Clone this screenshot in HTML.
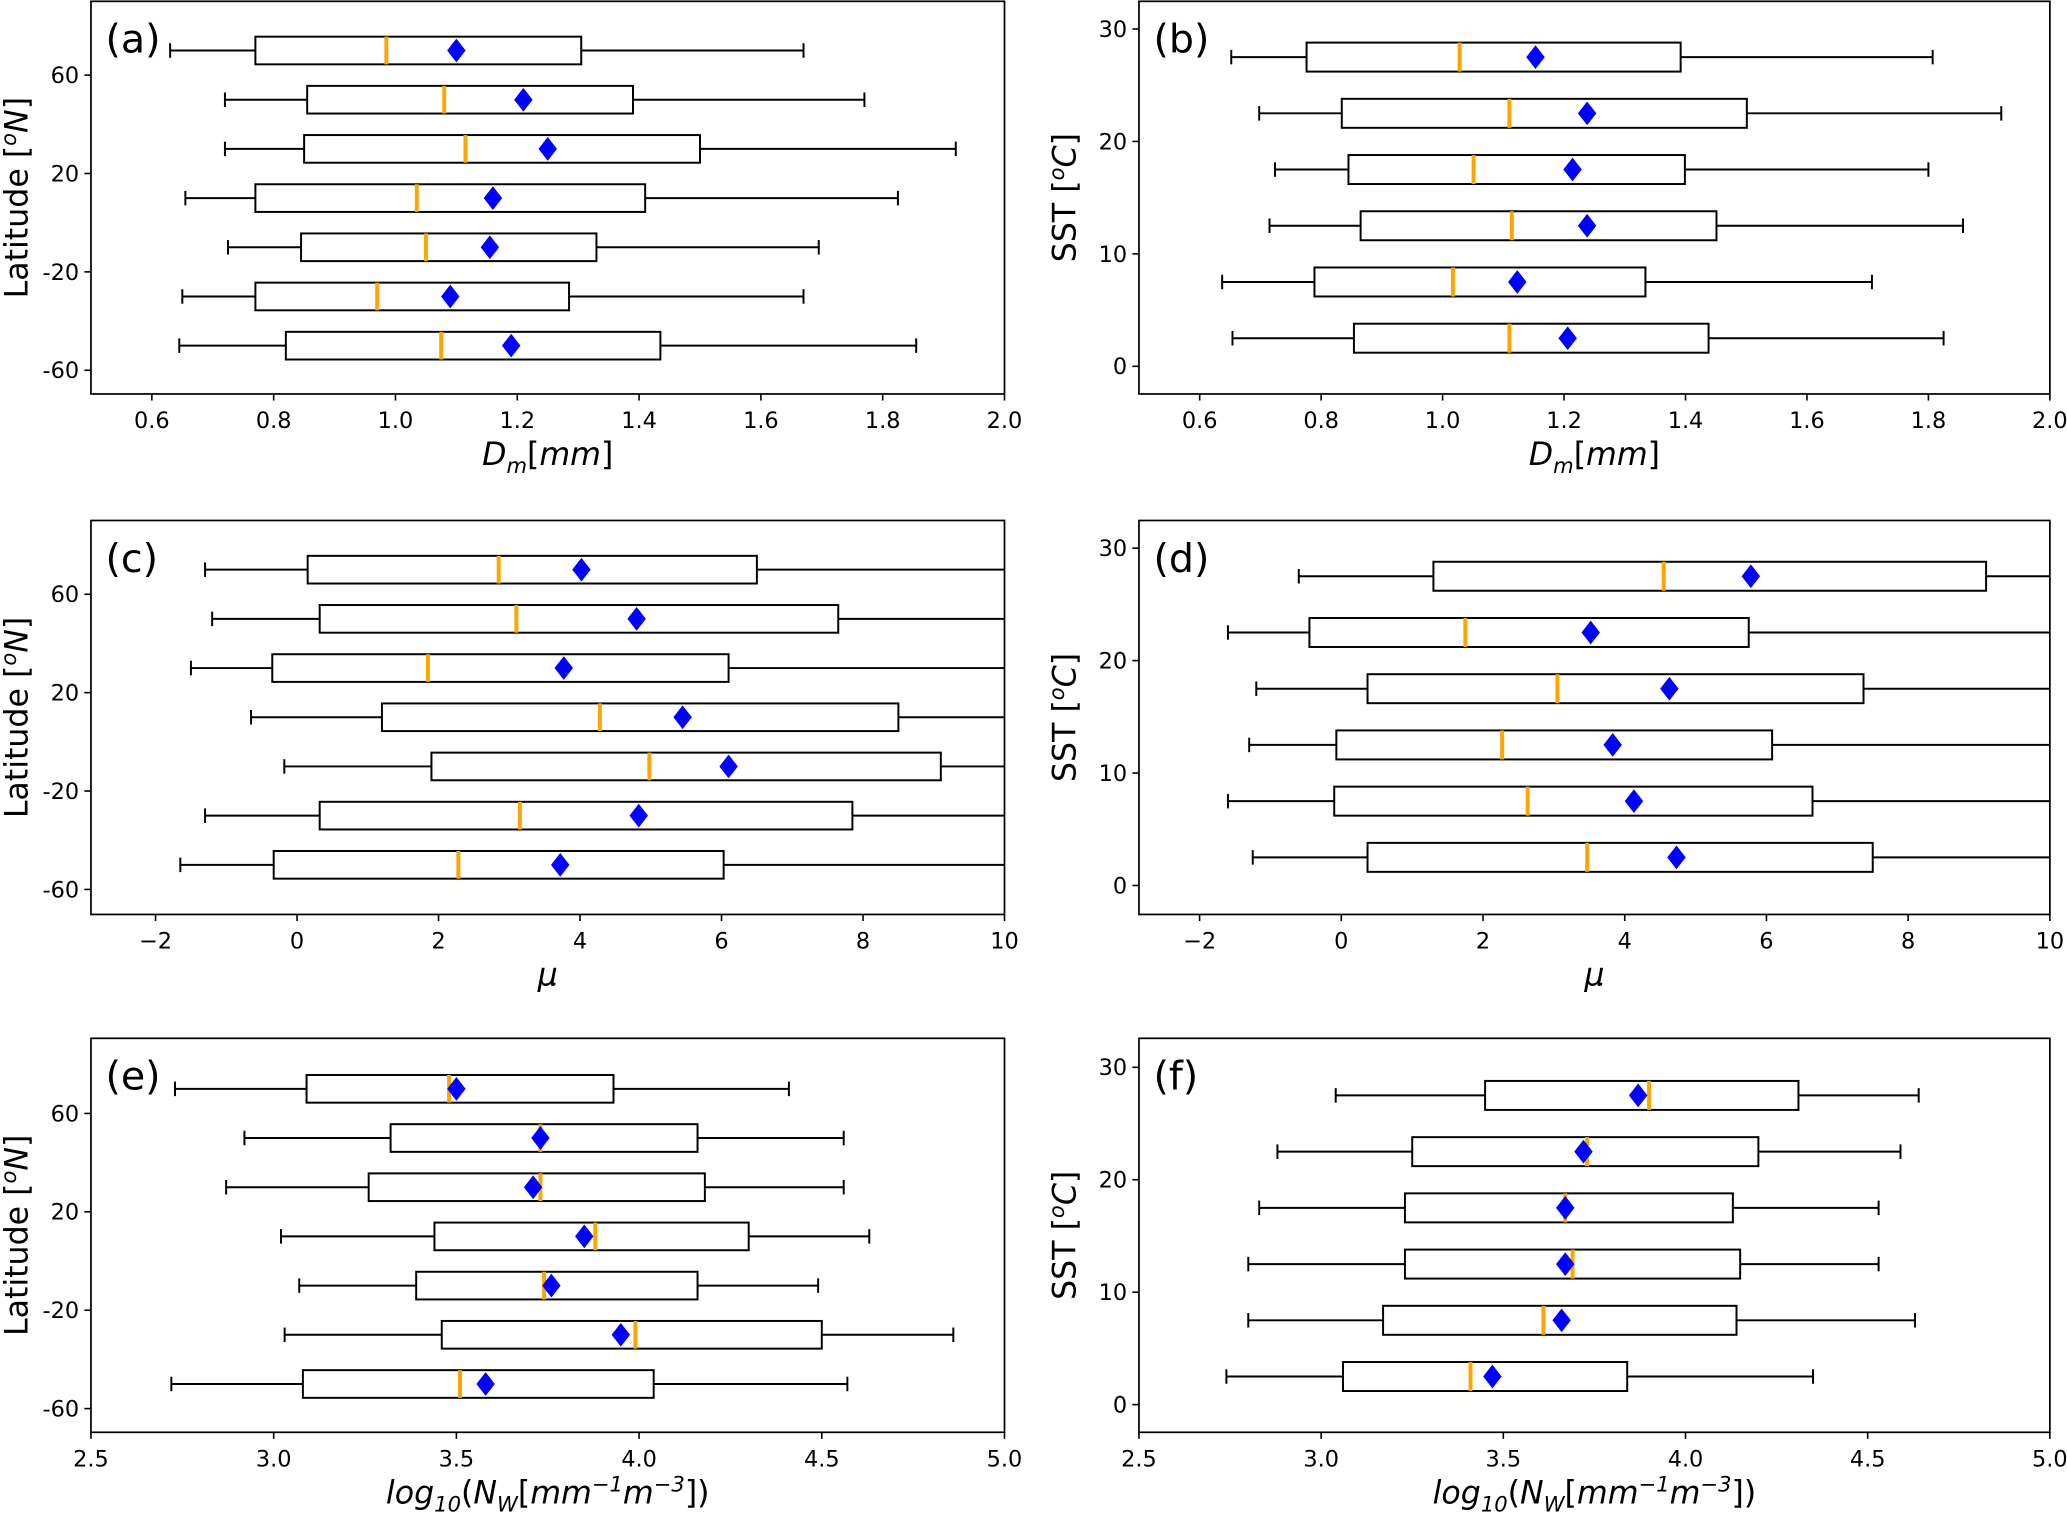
<!DOCTYPE html>
<html><head><meta charset="utf-8"><style>
html,body{margin:0;padding:0;background:#fff;}
svg{display:block;}
text{font-family:"DejaVu Sans","Liberation Sans",sans-serif;}
</style></head><body>
<svg id="fig" xmlns="http://www.w3.org/2000/svg" width="2067" height="1514" viewBox="0 0 1568 1149" preserveAspectRatio="none"></svg>
<script>
// rows: [whiskerLow, q1, median, q3, whiskerHigh, mean]
const latCats = [70, 50, 30, 10, -10, -30, -50];
const sstCats = [27.5, 22.5, 17.5, 12.5, 7.5, 2.5];
const dmLat = [[0.63,0.77,0.985,1.305,1.67,1.10],[0.72,0.855,1.08,1.39,1.77,1.21],[0.72,0.85,1.115,1.50,1.92,1.25],[0.655,0.77,1.035,1.41,1.825,1.16],[0.725,0.845,1.05,1.33,1.695,1.155],[0.65,0.77,0.97,1.285,1.67,1.09],[0.645,0.82,1.075,1.435,1.855,1.19]];
const dmSst = [[0.652,0.776,1.028,1.392,1.807,1.153],[0.698,0.834,1.110,1.501,1.920,1.238],[0.724,0.845,1.051,1.399,1.800,1.214],[0.715,0.865,1.114,1.451,1.857,1.238],[0.637,0.789,1.017,1.334,1.707,1.123],[0.654,0.854,1.110,1.438,1.825,1.206]];
const muLat = [[-1.3,0.15,2.85,6.5,13,4.02],[-1.2,0.32,3.1,7.65,13,4.8],[-1.5,-0.35,1.85,6.1,13,3.77],[-0.65,1.2,4.28,8.5,13,5.45],[-0.18,1.9,4.98,9.1,13,6.1],[-1.3,0.32,3.15,7.85,13,4.83],[-1.65,-0.33,2.28,6.03,13,3.72]];
const muSst = [[-0.6,1.3,4.55,9.1,15,5.78],[-1.6,-0.45,1.75,5.75,15,3.52],[-1.2,0.37,3.05,7.37,15,4.63],[-1.3,-0.07,2.27,6.08,15,3.83],[-1.6,-0.1,2.63,6.65,15,4.13],[-1.25,0.37,3.47,7.5,15,4.73]];
const nwLat = [[2.73,3.09,3.48,3.93,4.41,3.50],[2.92,3.32,3.73,4.16,4.56,3.73],[2.87,3.26,3.73,4.18,4.56,3.71],[3.02,3.44,3.88,4.30,4.63,3.85],[3.07,3.39,3.74,4.16,4.49,3.76],[3.03,3.46,3.99,4.50,4.86,3.95],[2.72,3.08,3.51,4.04,4.57,3.58]];
const nwSst = [[3.04,3.45,3.90,4.31,4.64,3.87],[2.88,3.25,3.73,4.20,4.59,3.72],[2.83,3.23,3.67,4.13,4.53,3.67],[2.80,3.23,3.69,4.15,4.53,3.67],[2.80,3.17,3.61,4.14,4.63,3.66],[2.74,3.06,3.41,3.84,4.35,3.47]];
const dmTicks = [0.6,0.8,1.0,1.2,1.4,1.6,1.8,2.0];
const muTicks = [-2,0,2,4,6,8,10];
const nwTicks = [2.5,3.0,3.5,4.0,4.5,5.0];
const latTicks = [60,20,-20,-60];
const sstTicks = [0,10,20,30];

const NS='http://www.w3.org/2000/svg';
const svg=document.getElementById('fig');
function mk(tag,attrs,parent){const e=document.createElementNS(NS,tag);for(const k in attrs)e.setAttribute(k,attrs[k]);(parent||svg).appendChild(e);return e;}
function lin(v0,p0,v1,p1){return v=>p0+(v-v0)*(p1-p0)/(v1-v0);}

const panels=[
 {id:'a',L:69,R:762,T:1,B:299,x:lin(0.5,69,2.0,762),y:lin(60,57,-60,281),xt:dmTicks,yt:latTicks,cats:latCats,data:dmLat,xfmt:v=>v.toFixed(1),ylab:'lat',xlab:'dm',bh:21},
 {id:'b',L:864,R:1555,T:1,B:299,x:lin(0.5,864,2.0,1555),y:lin(30,22,0,278),xt:dmTicks,yt:sstTicks,cats:sstCats,data:dmSst,xfmt:v=>v.toFixed(1),ylab:'sst',xlab:'dm',bh:22},
 {id:'c',L:69,R:762,T:395,B:694,x:lin(-2,118,10,762),y:lin(60,451,-60,675),xt:muTicks,yt:latTicks,cats:latCats,data:muLat,xfmt:v=>(v<0?'\u2212'+(-v):''+v),ylab:'lat',xlab:'mu',bh:21},
 {id:'d',L:864,R:1555,T:395,B:694,x:lin(-2,910,10,1555),y:lin(30,416,0,672),xt:muTicks,yt:sstTicks,cats:sstCats,data:muSst,xfmt:v=>(v<0?'\u2212'+(-v):''+v),ylab:'sst',xlab:'mu',bh:22},
 {id:'e',L:69,R:762,T:788,B:1087,x:lin(2.5,69,5.0,762),y:lin(60,845,-60,1069),xt:nwTicks,yt:latTicks,cats:latCats,data:nwLat,xfmt:v=>v.toFixed(1),ylab:'lat',xlab:'nw',bh:21},
 {id:'f',L:864,R:1555,T:788,B:1087,x:lin(2.5,864,5.0,1555),y:lin(30,810,0,1066),xt:nwTicks,yt:sstTicks,cats:sstCats,data:nwSst,xfmt:v=>v.toFixed(1),ylab:'sst',xlab:'nw',bh:22}
];

panels.forEach(p=>{
  const g=mk('g',{});
  
  
  const cp=mk('clipPath',{id:'clip-'+p.id},g);
  mk('rect',{x:p.L,y:p.T,width:p.R-p.L,height:p.B-p.T},cp);
  const plot=mk('g',{'clip-path':'url(#clip-'+p.id+')'},g);
  p.cats.forEach((c,i)=>{
    const d=p.data[i];const yc=p.y(c);const h=p.bh/2;
    const bg=mk('g',{},plot);
    
    
    mk('line',{x1:p.x(d[0]),x2:p.x(d[1]),y1:yc,y2:yc,stroke:'#000','stroke-width':1.5},bg);
    mk('line',{x1:p.x(d[3]),x2:p.x(d[4]),y1:yc,y2:yc,stroke:'#000','stroke-width':1.5},bg);
    mk('line',{x1:p.x(d[0]),x2:p.x(d[0]),y1:yc-5.5,y2:yc+5.5,stroke:'#000','stroke-width':1.5},bg);
    mk('line',{x1:p.x(d[4]),x2:p.x(d[4]),y1:yc-5.5,y2:yc+5.5,stroke:'#000','stroke-width':1.5},bg);
    mk('rect',{x:p.x(d[1]),y:yc-h,width:p.x(d[3])-p.x(d[1]),height:p.bh,fill:'#fff',stroke:'#000','stroke-width':1.5},bg);
    mk('line',{x1:p.x(d[2]),x2:p.x(d[2]),y1:yc-h,y2:yc+h,stroke:'#ffa500','stroke-width':3},bg);
    const mx=p.x(d[5]);
    const dm=mk('polygon',{points:`${mx},${yc-9} ${mx+7},${yc} ${mx},${yc+9} ${mx-7},${yc}`,fill:'#0000ff'},bg);
    
    
  });
  mk('rect',{x:p.L,y:p.T,width:p.R-p.L,height:p.B-p.T,fill:'none',stroke:'#000','stroke-width':1.3},g);
  p.xt.forEach(v=>{const xx=p.x(v);
    mk('line',{x1:xx,x2:xx,y1:p.B,y2:p.B+5,stroke:'#000','stroke-width':1.2},g);
    const t=mk('text',{x:xx,y:p.B+26,'font-size':17,'text-anchor':'middle'},g);t.textContent=p.xfmt(v);
    
    
  });
  p.yt.forEach(v=>{const yy=p.y(v);
    mk('line',{x1:p.L-5,x2:p.L,y1:yy,y2:yy,stroke:'#000','stroke-width':1.2},g);
    const t=mk('text',{x:p.L-9,y:yy+6,'font-size':17,'text-anchor':'end'},g);t.textContent=''+v;
    
    
  });
  const lb=mk('text',{x:p.L+11,y:p.T+39,'font-size':30},g);lb.textContent='('+p.id+')';
  
  
  const yl=mk('text',{transform:`translate(${p.L-48},${(p.T+p.B)/2}) rotate(-90)`,'font-size':24,'text-anchor':'middle'},g);
  
  
  if(p.ylab==='lat'){yl.innerHTML='Latitude [<tspan font-size="16" dy="-9" font-style="italic">o</tspan><tspan dy="9" font-style="italic">N</tspan>]';}
  else{yl.innerHTML='SST [<tspan font-size="16" dy="-9" font-style="italic">o</tspan><tspan dy="9" font-style="italic">C</tspan>]';}
  const xc=(p.L+p.R)/2;
  const xl=mk('text',{x:xc,y:p.B+54,'font-size':24,'text-anchor':'middle','font-style':'italic'},g);
  
  
  if(p.xlab==='dm'){xl.innerHTML='D<tspan font-size="16" dy="6">m</tspan><tspan dy="-6" font-style="normal">[</tspan>mm<tspan font-style="normal">]</tspan>';}
  else if(p.xlab==='mu'){xl.textContent='\u03bc';}
  else{xl.innerHTML='log<tspan font-size="16" dy="6">10</tspan><tspan dy="-6" font-style="normal">(</tspan>N<tspan font-size="16" dy="6">W</tspan><tspan dy="-6" font-style="normal">[</tspan>mm<tspan font-size="16" dy="-9">\u22121</tspan><tspan dy="9">m</tspan><tspan font-size="16" dy="-9">\u22123</tspan><tspan dy="9" font-style="normal">])</tspan>';}
});
</script>
</body></html>
